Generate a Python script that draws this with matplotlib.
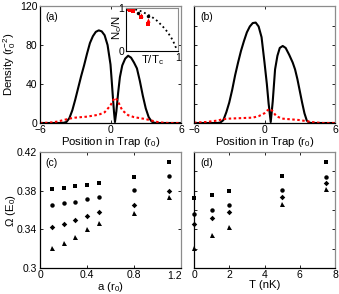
import matplotlib
matplotlib.use("Agg")
import matplotlib.pyplot as plt

plt.rcParams['font.family'] = ['Liberation Sans', 'DejaVu Sans']
plt.rcParams['font.size'] = 7.5
plt.rcParams['mathtext.fontset'] = 'custom'
plt.rcParams['mathtext.rm'] = 'Liberation Sans'
plt.rcParams['mathtext.it'] = 'Liberation Sans'

# ---- Panel (a) density profiles ----
xa_black = [-6, -5, -4.5, -4, -3.75, -3.5, -3.25, -3, -2.75, -2.5, -2.25, -2, -1.75, -1.5,
            -1.25, -1, -0.75, -0.5, -0.25, 0, 0.1, 0.2, 0.3, 0.38, 0.5, 0.65, 0.8, 1, 1.25,
            1.5, 1.75, 2, 2.25, 2.5, 2.75, 3, 3.25, 3.5, 3.75, 4, 5, 6]
ya_black = [0, 0, 0, 0.2, 1, 5, 13, 24, 36, 48, 59, 71, 82, 89,
            93.5, 95, 94, 90, 80, 60, 44, 27, 11, 1, 12, 31, 47, 59, 66,
            69, 67, 62, 56, 43, 28, 15, 6, 1.5, 0.2, 0, 0, 0]
xa_red = [-6, -5.5, -5, -4.5, -4, -3.5, -3, -2, -1, -0.5, 0, 0.2, 0.4, 0.6, 0.8, 1, 1.5,
          2, 2.5, 3, 3.5, 4, 4.5, 5, 6]
ya_red = [0, 0.2, 0.6, 1.5, 3, 4.5, 5.5, 6.5, 8.5, 11, 18, 23, 26, 23, 18, 13, 8,
          6, 5, 4, 2.5, 1, 0.3, 0, 0]

# ---- Panel (b) density profiles ----
xb_black = [-6, -4, -3.75, -3.5, -3.25, -3, -2.75, -2.5, -2.25, -2, -1.75, -1.5, -1.25, -1,
            -0.75, -0.5, -0.25, 0, 0.2, 0.35, 0.53, 0.7, 0.9, 1.1, 1.3, 1.55, 1.8, 2.1,
            2.4, 2.6, 2.8, 3, 3.2, 3.4, 3.6, 3.8, 4, 6]
yb_black = [0, 0, 0.5, 3, 11, 21, 34, 49, 62, 74, 84, 93, 99, 102.5,
            103, 99, 88, 62, 40, 20, 1, 22, 55, 69, 77, 79, 77, 70,
            62, 55, 45, 33, 21, 10, 2.5, 0.4, 0, 0]
xb_red = [-6, -5, -4, -3.5, -3, -2, -1, -0.5, 0, 0.25, 0.47, 0.7, 1, 1.5, 2, 3, 3.5, 4,
          4.5, 5, 6]
yb_red = [0.3, 1, 2.5, 4, 4.5, 5, 5.5, 7, 10, 13, 14.5, 12, 7, 4.5, 4, 3, 2, 1,
          0.4, 0, 0]

# ---- Inset: condensate fraction ----
inset_curve_x = [0, 0.1, 0.2, 0.3, 0.4, 0.5, 0.6, 0.7, 0.8, 0.9, 0.97]
inset_curve_y = [1, 0.99, 0.96, 0.92, 0.86, 0.79, 0.70, 0.58, 0.44, 0.25, 0.05]
inset_red_sq_x = [0.02, 0.05, 0.08, 0.11, 0.14, 0.29, 0.42]
inset_red_sq_y = [0.99, 0.98, 0.96, 0.95, 0.93, 0.78, 0.62]
inset_red_tri_x = [0.29, 0.42]
inset_red_tri_y = [0.83, 0.71]
inset_blk_x = [0.23, 0.42]
inset_blk_y = [0.89, 0.82]

# ---- Panel (c): Omega vs a ----
a_vals = [0.1, 0.2, 0.3, 0.4, 0.5, 0.8, 1.1]
c_sq = [0.3817, 0.3828, 0.3848, 0.3862, 0.3876, 0.3944, 0.4100]
c_ci = [0.3652, 0.3669, 0.3686, 0.3711, 0.3738, 0.3807, 0.3955]
c_di = [0.3421, 0.3455, 0.3497, 0.3538, 0.3576, 0.3652, 0.3797]
c_tr = [0.3204, 0.3255, 0.3324, 0.3400, 0.3462, 0.3566, 0.3731]

# ---- Panel (d): Omega vs T ----
T_vals = [0, 1, 2, 5, 7.5]
d_sq = [0.3727, 0.3755, 0.3797, 0.3955, 0.4100]
d_ci = [0.3559, 0.3600, 0.3652, 0.3807, 0.3944]
d_di = [0.3455, 0.3520, 0.3576, 0.3731, 0.3876]
d_tr = [0.3204, 0.3341, 0.3427, 0.3659, 0.3814]

W, H = 339, 294
fig = plt.figure(figsize=(W / 100, H / 100), dpi=100)


def ax_px(l, r, t, b):
    return fig.add_axes([l / W, 1 - b / H, (r - l) / W, (b - t) / H])


def style(ax):
    ax.tick_params(direction='in', length=2.5, width=0.6, top=True, right=True,
                   labelsize=7.5, pad=2)
    ax.tick_params(axis='x', pad=1.5)
    for s in ['left', 'bottom']:
        ax.spines[s].set_color('black')
        ax.spines[s].set_linewidth(0.9)
    for s in ['top', 'right']:
        ax.spines[s].set_color('#8c8c8c')
        ax.spines[s].set_linewidth(0.9)


axa = ax_px(40, 181, 6, 123)
axb = ax_px(194, 335, 6, 123)
axc = ax_px(40, 181, 152, 268)
axd = ax_px(194, 335, 152, 268)

for ax in (axa, axb, axc, axd):
    style(ax)

LAB = 8.2

# (a)
axa.plot(xa_black, ya_black, color='black', lw=1.5)
axa.plot(xa_red, ya_red, color='red', lw=1.5, ls=(0, (1.2, 1.2)))
axa.set_xlim(-6, 6)
axa.set_ylim(0, 120)
axa.set_xticks([-6, 0, 6])
axa.set_yticks([0, 40, 80, 120])
axa.set_ylabel('Density (r$_0^{-2}$)', fontsize=LAB)
axa.yaxis.set_label_coords(-0.156, 0.5)
axa.set_xlabel('Position in Trap (r$_0$)', fontsize=LAB)
axa.xaxis.set_label_coords(0.5, -0.1)
axa.text(0.035, 0.906, '(a)', transform=axa.transAxes, ha='left', va='center', fontsize=7.5)

# (b)
axb.plot(xb_black, yb_black, color='black', lw=1.5)
axb.plot(xb_red, yb_red, color='red', lw=1.5, ls=(0, (1.2, 1.2)))
axb.set_xlim(-6, 6)
axb.set_ylim(0, 120)
axb.set_xticks([-6, 0, 6])
axb.set_yticks([0, 20, 40, 60, 80, 100, 120])
axb.set_yticklabels([])
axb.set_xlabel('Position in Trap (r$_0$)', fontsize=LAB)
axb.xaxis.set_label_coords(0.5, -0.1)
axb.text(0.043, 0.906, '(b)', transform=axb.transAxes, ha='left', va='center', fontsize=7.5)

# inset
axi = ax_px(126, 178, 8, 51)
axi.set_facecolor('white')
axi.plot(inset_curve_x, inset_curve_y, color='black', ls=(0, (1, 1.6)), lw=1.3)
axi.plot(inset_red_sq_x, inset_red_sq_y, 's', color='red', ms=2.8, mew=0)
axi.plot(inset_red_tri_x, inset_red_tri_y, '^', color='red', ms=3, mew=0)
axi.plot(inset_blk_x, inset_blk_y, 'o', color='black', ms=2.5, mew=0)
axi.set_xlim(0, 1)
axi.set_ylim(0, 1)
axi.set_xticks([1])
axi.set_yticks([0, 1])
axi.tick_params(direction='in', length=2, width=0.5, top=True, right=True,
                labelsize=7.5, pad=1.5)
for s in axi.spines.values():
    s.set_color('#8c8c8c')
    s.set_linewidth(0.8)
axi.spines['left'].set_color('black')
axi.spines['bottom'].set_color('black')
axi.set_xlabel('T/T$_c$', fontsize=LAB)
axi.xaxis.set_label_coords(0.5, -0.04)
axi.set_ylabel('N$_c$/N', fontsize=LAB)
axi.yaxis.set_label_coords(-0.03, 0.55)

# (c)
mk = dict(color='black', ls='none', ms=3.2, mew=0)
axc.plot(a_vals, c_sq, marker='s', **mk)
axc.plot(a_vals, c_ci, marker='o', **mk)
axc.plot(a_vals, c_di, marker='D', **dict(mk, ms=2.8))
axc.plot(a_vals, c_tr, marker='^', **dict(mk, ms=3.6))
axc.set_xlim(0, 1.2)
axc.set_ylim(0.3, 0.42)
axc.set_xticks([0, 0.4, 0.8])
axc.set_xticklabels(['0', '0.4', '0.8'])
axc.set_yticks([0.3, 0.34, 0.38, 0.42])
axc.set_yticklabels(['0.3', '0.34', '0.38', '0.42'])
axc.set_xlabel('a (r$_0$)', fontsize=LAB)
axc.xaxis.set_label_coords(0.5, -0.105)
axc.set_ylabel('Ω (E$_0$)', fontsize=LAB)
axc.yaxis.set_label_coords(-0.156, 0.5)
axc.text(0.035, 0.905, '(c)', transform=axc.transAxes, ha='left', va='center', fontsize=7.5)
fig.text(175 / W, 1 - 276 / H, '1.2', ha='center', va='center', fontsize=7.5)

# (d)
axd.plot(T_vals, d_sq, marker='s', clip_on=False, **mk)
axd.plot(T_vals, d_ci, marker='o', clip_on=False, **mk)
axd.plot(T_vals, d_di, marker='D', clip_on=False, **dict(mk, ms=2.8))
axd.plot(T_vals, d_tr, marker='^', clip_on=False, **dict(mk, ms=3.6))
axd.set_xlim(0, 8)
axd.set_ylim(0.3, 0.42)
axd.set_xticks([0, 2, 4, 6, 8])
axd.set_yticks([0.3, 0.32, 0.34, 0.36, 0.38, 0.40, 0.42])
axd.set_yticklabels([])
axd.set_xlabel('T (nK)', fontsize=LAB)
axd.xaxis.set_label_coords(0.5, -0.105)
axd.text(0.043, 0.905, '(d)', transform=axd.transAxes, ha='left', va='center', fontsize=7.5)

fig.savefig('out.png', dpi=100)
